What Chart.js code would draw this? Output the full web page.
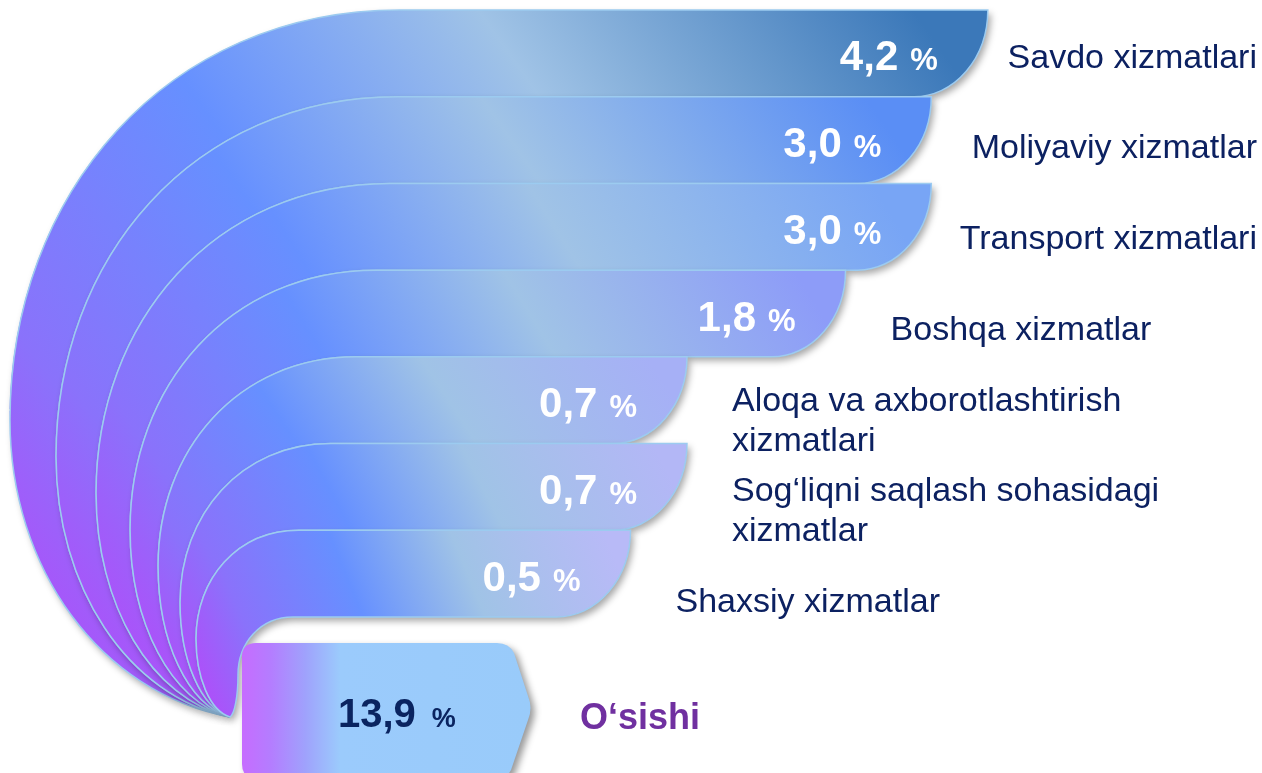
<!DOCTYPE html>
<html>
<head>
<meta charset="utf-8">
<script src="https://cdn.jsdelivr.net/npm/chart.js@4.4.1/dist/chart.umd.min.js"></script>
<style>
  html, body { margin: 0; padding: 0; background: #fff; }
</style>
</head>
<body>
<canvas id="myChart" width="1262" height="773"></canvas>
<script>
// categories (multi-line labels as arrays) and their growth contributions, %
const categories = [
  ['Savdo xizmatlari'],
  ['Moliyaviy xizmatlar'],
  ['Transport xizmatlari'],
  ['Boshqa xizmatlar'],
  ['Aloqa va axborotlashtirish', 'xizmatlari'],
  ['Sog‘liqni saqlash sohasidagi', 'xizmatlar'],
  ['Shaxsiy xizmatlar']
];
const values = [4.2, 3.0, 3.0, 1.8, 0.7, 0.7, 0.5];
const totalLabel = 'O‘sishi';
const totalValue = 13.9;

// colour at the right tip of each band
const endColors = ['#3b78b9', '#5a8ef5', '#78a5f5', '#8d9cf8', '#a6b0f6', '#b3b7f6', '#b8baf7'];

const FONT = '"Liberation Sans", Arial, sans-serif';
const fmt = v => v.toFixed(1).replace('.', ',');

const bandsPlugin = {
  id: 'bands',
  afterDatasetsDraw(chart) {
    const ctx = chart.ctx;
    const bars = chart.getDatasetMeta(0).data;
    const P = { x: 230, y: 717 };   // point where all bands meet
    const top0 = bars[0].y - bars[0].height / 2;
    const span = P.y - top0;

    const arcOf = (t, xlFixed) => {
      const s = (P.y - t) / span;
      const xl = xlFixed !== undefined ? xlFixed : 10 + 200 * (1 - s * s);
      const ym = t + (P.y - t) * 0.58;
      const xh = xl + (ym - t) * 0.95;
      return { t, xl, ym, xh };
    };
    const arcs = bars.map(b => arcOf(b.y - b.height / 2));
    const last = bars[bars.length - 1];
    arcs.push(arcOf(last.y + last.height / 2, P.x + 8));

    // bands, top first
    for (let k = 0; k < bars.length; k++) {
      const bar = bars[k];
      const a = arcs[k], b = arcs[k + 1];
      const h = bar.height;
      const end = bar.x;
      const rx = 0.85 * h;

      ctx.save();
      ctx.beginPath();
      ctx.moveTo(P.x, P.y);
      ctx.bezierCurveTo(a.xl + (P.x - a.xl) * 0.41, P.y - (P.y - a.ym) * 0.08,
                        a.xl, a.ym + (P.y - a.ym) * 0.5, a.xl, a.ym);
      ctx.bezierCurveTo(a.xl, a.ym - (a.ym - a.t) * 0.55,
                        a.xh - (a.xh - a.xl) * 0.6, a.t, a.xh, a.t);
      ctx.lineTo(end, a.t);
      ctx.ellipse(end - rx, a.t, rx, h, 0, 0, Math.PI / 2);
      ctx.lineTo(b.xh, b.t);
      ctx.bezierCurveTo(b.xh - (b.xh - b.xl) * 0.6, b.t,
                        b.xl, b.ym - (b.ym - b.t) * 0.55, b.xl, b.ym);
      ctx.bezierCurveTo(b.xl, b.ym + (P.y - b.ym) * 0.5,
                        b.xl + (P.x - b.xl) * 0.41, P.y - (P.y - b.ym) * 0.08, P.x, P.y);
      ctx.closePath();

      const g = ctx.createLinearGradient(a.xl - 20, P.y, end, a.t);
      g.addColorStop(0, '#c23cf8');
      g.addColorStop(0.2, '#8a72fb');
      g.addColorStop(0.43, '#6690ff');
      g.addColorStop(0.66, '#a0c3e6');
      g.addColorStop(0.95, endColors[k]);
      g.addColorStop(1, endColors[k]);
      ctx.fillStyle = g;
      ctx.shadowColor = 'rgba(0,0,0,0.35)';
      ctx.shadowBlur = 7;
      ctx.shadowOffsetX = 3;
      ctx.shadowOffsetY = 4;
      ctx.fill();
      ctx.shadowColor = 'rgba(0,0,0,0)';
      ctx.strokeStyle = '#9ccbf0';
      ctx.lineWidth = 1.5;
      ctx.stroke();
      ctx.restore();
    }

    // value labels inside bands
    ctx.save();
    ctx.fillStyle = '#ffffff';
    ctx.textBaseline = 'alphabetic';
    bars.forEach((bar, k) => {
      const right = bar.x - 50;
      const base = bar.y + 17;
      ctx.textAlign = 'right';
      ctx.font = 'bold 31px ' + FONT;
      ctx.fillText('%', right, base);
      const pw = ctx.measureText('%').width;
      ctx.font = 'bold 42px ' + FONT;
      ctx.fillText(fmt(values[k]), right - pw - 12, base);
    });
    ctx.restore();

    // category labels on the right
    ctx.save();
    ctx.fillStyle = '#0c2161';
    ctx.font = '34px ' + FONT;
    ctx.textAlign = 'left';
    ctx.textBaseline = 'middle';
    bars.forEach((bar, k) => {
      const lines = categories[k];
      const w = Math.max(...lines.map(l => ctx.measureText(l).width));
      const x = Math.min(bar.x + 45, chart.width - 5 - w);
      const lh = 40;
      const cy = bar.y + 5 + 4 * k;
      lines.forEach((l, i) => {
        ctx.fillText(l, x, cy + (i - (lines.length - 1) / 2) * lh);
      });
    });
    ctx.restore();

    // total box
    const bx = 242, by = 643, bb = 778, bxr = 505, tipX = 531, tipY = 708, r = 14;
    ctx.save();
    ctx.beginPath();
    ctx.moveTo(bx + r, by);
    ctx.lineTo(bxr - 8, by);
    ctx.quadraticCurveTo(bxr + 4, by, bxr + 9, by + 10);
    ctx.lineTo(tipX - 3, tipY - 12);
    ctx.quadraticCurveTo(tipX + 2, tipY, tipX - 3, tipY + 12);
    ctx.lineTo(bxr + 6, bb - 8);
    ctx.quadraticCurveTo(bxr + 2, bb, bxr - 8, bb);
    ctx.lineTo(bx + r, bb);
    ctx.quadraticCurveTo(bx, bb, bx, bb - r);
    ctx.lineTo(bx, by + r);
    ctx.quadraticCurveTo(bx, by, bx + r, by);
    ctx.closePath();
    const bg = ctx.createLinearGradient(bx, 0, tipX, 0);
    bg.addColorStop(0, '#c66cff');
    bg.addColorStop(0.1, '#b47dff');
    bg.addColorStop(0.22, '#9fa2fc');
    bg.addColorStop(0.34, '#9bcbfc');
    bg.addColorStop(1, '#99cbfa');
    ctx.fillStyle = bg;
    ctx.shadowColor = 'rgba(0,0,0,0.4)';
    ctx.shadowBlur = 7;
    ctx.shadowOffsetX = 4;
    ctx.shadowOffsetY = 4;
    ctx.fill();
    ctx.restore();

    ctx.save();
    ctx.fillStyle = '#0a2460';
    ctx.textBaseline = 'alphabetic';
    ctx.textAlign = 'left';
    ctx.font = 'bold 40px ' + FONT;
    const tv = fmt(totalValue);
    ctx.fillText(tv, 338, 727);
    const tw = ctx.measureText(tv).width;
    ctx.font = 'bold 27px ' + FONT;
    ctx.fillText('%', 338 + tw + 16, 727);
    ctx.fillStyle = '#7030a0';
    ctx.font = 'bold 36px ' + FONT;
    ctx.fillText(totalLabel, 580, 729);
    ctx.restore();
  }
};

new Chart(document.getElementById('myChart'), {
  type: 'bar',
  data: {
    labels: categories,
    datasets: [{
      data: values,
      backgroundColor: 'rgba(0,0,0,0)',
      borderWidth: 0,
      barPercentage: 1,
      categoryPercentage: 1
    }]
  },
  options: {
    indexAxis: 'y',
    responsive: false,
    devicePixelRatio: 1,
    animation: false,
    layout: { padding: { top: 10, bottom: 156, left: 0, right: 0 } },
    scales: {
      x: { type: 'logarithmic', min: 0.0117, max: 21.5, bounds: 'data', display: false },
      y: { display: false }
    },
    plugins: {
      legend: { display: false },
      tooltip: { enabled: false }
    }
  },
  plugins: [bandsPlugin]
});
</script>
</body>
</html>
